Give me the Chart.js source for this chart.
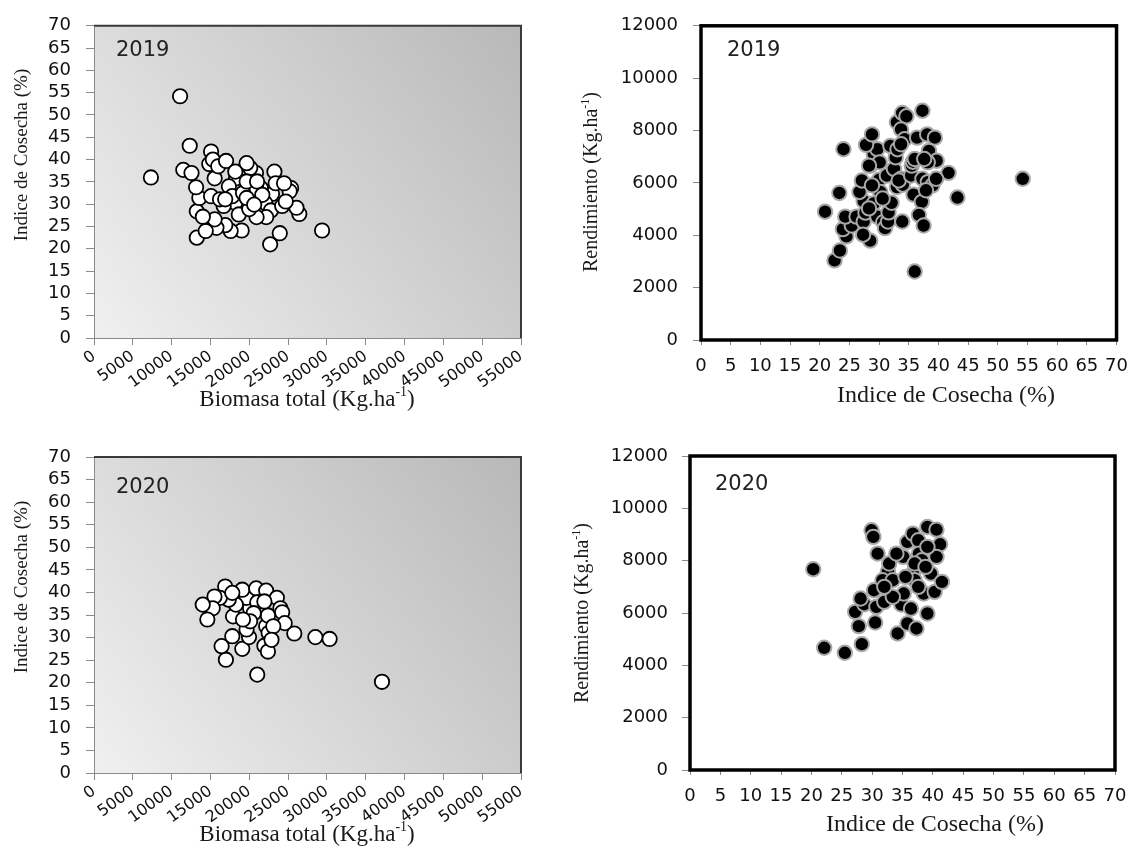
<!DOCTYPE html>
<html><head><meta charset="utf-8">
<script src="https://cdn.jsdelivr.net/npm/chart.js@4.4.1/dist/chart.umd.min.js"></script>
<style>
html,body{margin:0;padding:0;background:#fff;}
body{width:1139px;height:850px;overflow:hidden;position:relative;}
canvas{position:absolute;}
</style></head><body>
<canvas id="c1" width="570" height="420" style="left:0px;top:0px"></canvas>
<canvas id="c2" width="569" height="420" style="left:570px;top:0px"></canvas>
<canvas id="c3" width="570" height="430" style="left:0px;top:420px"></canvas>
<canvas id="c4" width="569" height="430" style="left:570px;top:420px"></canvas>
<script>
// ---------- data ----------
const biomasaTicks = [0,5000,10000,15000,20000,25000,30000,35000,40000,45000,50000,55000];
const icTicksY = [0,5,10,15,20,25,30,35,40,45,50,55,60,65,70];
const icTicksX = [0,5,10,15,20,25,30,35,40,45,50,55,60,65,70];
const rendTicks = [0,2000,4000,6000,8000,10000,12000];

// 2019: Biomasa total vs Indice de Cosecha
const biomasa2019 = [11090,7330,12330,11500,29380,22690,23930,13240,26440,26080,25390,25200,23240,22920,22040,22780,22180,20940,24240,21490,20940,20860,20120,19660,20260,18290,17370,18200,18650,19020,17600,16910,15770,15540,14390,13240,14020,13570,13150,12560,15080,15540,14850,15080,15310,16000,17010,18200,17800,19200,19660,21000,21680,23400,24480,24700,16700,16230,16900,20000,19660,20630];
const icBio2019 = [54.2,36.0,43.1,37.7,24.1,21.0,23.5,22.5,27.8,29.2,33.6,32.9,37.3,32.3,30.3,28.6,27.1,27.1,29.6,33.6,33.3,37.0,38.1,39.2,30.1,35.8,34.0,30.3,27.7,24.1,24.0,25.3,24.7,26.6,24.0,28.4,27.2,31.4,33.8,37.0,31.8,35.8,39.0,41.8,40.0,38.5,39.7,37.3,31.8,32.5,35.1,35.1,32.1,34.7,34.7,30.6,29.6,31.1,31.1,28.9,31.4,29.9];

// 2019: Indice de Cosecha vs Rendimiento
const icRend2019 = [54.2,43.2,41.7,36.0,22.5,23.4,20.9,23.3,24.0,24.5,23.9,25.4,24.3,26.2,27.4,28.5,27.3,27.7,27.4,26.7,27.1,28.5,29.1,29.7,27.8,28.8,30.1,30.0,30.2,29.1,29.7,30.7,31.0,31.5,31.6,32.1,31.9,31.3,32.5,32.8,33.1,33.0,33.9,34.6,33.7,34.3,33.7,33.7,33.0,34.0,33.3,33.9,35.4,35.5,35.7,36.0,36.4,35.8,37.2,36.7,37.5,37.3,38.1,39.4,38.4,39.7,38.2,37.6,37.3,38.2,39.0,39.6,37.9,30.6,28.3,28.8,28.3];
const rend2019 = [6157,5441,6383,2614,3041,3418,4900,5617,7288,3958,4234,4373,4712,4712,4523,3795,4021,4863,5303,5654,6094,6660,7099,7288,7451,7853,6785,6119,5654,5215,4712,4498,4272,4523,4875,5240,7413,6282,6534,6974,7288,8318,8670,8544,8042,7665,7476,6157,5843,5931,6094,4523,6283,6660,6810,6911,7728,5554,5277,4775,4373,8758,7853,7728,7225,6848,6785,6911,6157,6031,5906,6157,5717,5403,5026,5906,6660];

// 2020: Biomasa total vs Indice de Cosecha
const biomasa2020 = [37095,30347,28510,25800,21026,16987,16436,17813,19099,19971,19650,21945,22404,22174,22496,22404,20109,19650,19099,20889,22174,23552,24011,24240,24562,23093,21027,21945,17905,18272,17354,16895,16206,15518,15288,14599,14003,17813,20568,20109,22863,19190];
const icBio2020 = [20.2,29.7,30.1,30.9,21.8,25.1,28.1,30.3,27.5,30.1,31.8,28.2,26.9,32.5,31.0,34.9,36.5,38.8,40.6,40.9,40.4,38.8,36.5,35.6,33.2,32.5,37.8,38.0,34.7,37.3,38.4,41.3,38.8,39.1,36.5,34.0,37.3,39.9,35.4,33.6,29.5,34.0];

// 2020: Indice de Cosecha vs Rendimiento
const icRend2020 = [20.3,22.1,25.5,28.3,27.8,30.5,27.2,28.7,28.1,29.9,30.2,30.9,30.3,30.7,32.0,32.6,31.7,33.4,32.8,34.2,34.8,35.8,37.3,39.1,36.4,36.7,35.8,36.7,35.1,34.0,37.6,39.1,40.6,41.2,40.6,39.7,38.5,40.3,41.5,37.7,38.2,37.0,37.6,35.2,33.4,32.0,37.0,38.8,35.5,39.1];
const rend2020 = [7673,4670,4479,4810,5497,5637,6044,6337,6553,9162,8908,8271,6872,6235,6426,7572,7253,7253,7890,5217,6324,5599,5408,5981,6171,7508,8717,9035,8144,8271,8780,9289,9187,8627,8144,7508,6744,6808,7190,8271,8016,7253,6999,6744,6617,6999,7890,7762,7381,8526];

// ---------- helpers ----------
const TICK_FONT = {family:'DejaVu Sans', size:18};
const SERIF = '"Liberation Serif", "Times New Roman", serif';

function pairs(xs, ys){ return xs.map((x,i)=>({x:x, y:ys[i]})); }

function richText(ctx, segs, x, y, size, rot){
  ctx.save();
  ctx.translate(x, y);
  ctx.rotate(rot || 0);
  const fN = size + 'px ' + SERIF;
  const fS = Math.round(size*0.6) + 'px ' + SERIF;
  let w = 0;
  segs.forEach(s => { ctx.font = s.sup ? fS : fN; s.w = ctx.measureText(s.t).width; w += s.w; });
  let cx = -w/2;
  ctx.textBaseline = 'middle';
  ctx.textAlign = 'left';
  ctx.fillStyle = '#1a1a1a';
  segs.forEach(s => { ctx.font = s.sup ? fS : fN; ctx.fillText(s.t, cx, s.sup ? -size*0.32 : 0); cx += s.w; });
  ctx.restore();
}

const T_BIO = [{t:'Biomasa total (Kg.ha'},{t:'-1',sup:true},{t:')'}];
const T_IC = [{t:'Indice de Cosecha (%)'}];
const T_IC2 = [{t:'Indice de Cosecha'},{t:' '},{t:'(%)'}];
const T_REND = [{t:'Rendimiento (Kg.ha'},{t:'-1',sup:true},{t:')'}];

function makeChart(id, cfg){
  const plugin = {
    id: 'deco_' + id,
    beforeDraw(chart){
      const a = chart.chartArea, ctx = chart.ctx;
      ctx.save();
      if (cfg.gradient){
        const g = ctx.createLinearGradient(a.left, a.bottom, a.right, a.top);
        g.addColorStop(0, '#f0f0f0');
        g.addColorStop(1, '#b8b8b8');
        ctx.fillStyle = g;
        ctx.fillRect(a.left, a.top, a.right - a.left, a.bottom - a.top);
      }
      ctx.restore();
    },
    afterDraw(chart){
      const a = chart.chartArea, ctx = chart.ctx;
      ctx.save();
      if (cfg.gradient){
        ctx.strokeStyle = '#3a3a3a';
        ctx.lineWidth = 2;
        ctx.beginPath();
        ctx.moveTo(a.left, a.top); ctx.lineTo(a.right, a.top); ctx.lineTo(a.right, a.bottom);
        ctx.stroke();
      } else {
        ctx.strokeStyle = '#000';
        ctx.lineWidth = 3.5;
        ctx.strokeRect(a.left, a.top, a.right - a.left, a.bottom - a.top);
      }
      // year label
      ctx.font = '21px "DejaVu Sans"';
      ctx.fillStyle = '#222';
      ctx.textBaseline = 'middle';
      ctx.textAlign = 'left';
      ctx.fillText(cfg.year, cfg.yearPos[0], cfg.yearPos[1]);
      ctx.restore();
      richText(ctx, cfg.xTitle, cfg.xTitlePos[0], cfg.xTitlePos[1], cfg.xTitleSize, 0);
      richText(ctx, cfg.yTitle, cfg.yTitlePos[0], cfg.yTitlePos[1], cfg.yTitleSize, -Math.PI/2);
    }
  };
  return new Chart(document.getElementById(id), {
    type: 'scatter',
    data: { datasets: [{
      data: cfg.data,
      backgroundColor: cfg.fill,
      borderColor: cfg.stroke,
      borderWidth: cfg.strokeW,
      pointRadius: 7.2,
      pointHoverRadius: 7.2
    }]},
    options: {
      responsive: false,
      animation: false,
      devicePixelRatio: 1,
      events: [],
      layout: { padding: { left: 0, top: cfg.padTop, right: cfg.padRight, bottom: 0 } },
      plugins: { legend: { display: false }, tooltip: { enabled: false } },
      scales: {
        x: {
          type: 'linear', min: cfg.xTicks[0], max: cfg.xTicks[cfg.xTicks.length-1],
          afterBuildTicks: s => { s.ticks = cfg.xTicks.map(v => ({value: v})); },
          afterFit: s => { s.height = cfg.xAxisH; },
          grid: { display: true, drawOnChartArea: false, drawTicks: true, tickLength: cfg.xTickLen, color: '#8a8a8a' },
          border: { display: true, color: '#8a8a8a', width: 1 },
          ticks: {
            autoSkip: false, font: cfg.xTickFont, color: '#111', padding: cfg.xTickPad,
            minRotation: cfg.xRot, maxRotation: cfg.xRot,
            callback: v => String(v)
          }
        },
        y: {
          type: 'linear', min: cfg.yTicks[0], max: cfg.yTicks[cfg.yTicks.length-1],
          afterBuildTicks: s => { s.ticks = cfg.yTicks.map(v => ({value: v})); },
          afterFit: s => { s.width = cfg.yAxisW; },
          grid: { display: true, drawOnChartArea: false, drawTicks: true, tickLength: 8, color: '#8a8a8a' },
          border: { display: true, color: '#8a8a8a', width: 1 },
          ticks: { autoSkip: false, font: TICK_FONT, color: '#111', padding: cfg.yTickPad, callback: v => String(v) }
        }
      }
    },
    plugins: [plugin]
  });
}

const whiteMarks = { fill: '#ffffff', stroke: '#000000', strokeW: 1.8 };
const blackMarks = { fill: '#000000', stroke: '#a8a8a8', strokeW: 2 };
const ROT_FONT = {family:'DejaVu Sans', size:16};

makeChart('c1', Object.assign({
  data: pairs(biomasa2019, icBio2019), gradient: true, year: '2019', yearPos: [116, 51],
  xTicks: biomasaTicks, yTicks: icTicksY,
  padTop: 23, padRight: 49, xAxisH: 82, yAxisW: 94,
  xTickLen: 7, xTickPad: 2, xRot: 36, xTickFont: ROT_FONT, yTickPad: 15,
  xTitle: T_BIO, xTitlePos: [307, 400], xTitleSize: 23,
  yTitle: T_IC, yTitlePos: [22, 155], yTitleSize: 19
}, whiteMarks));

makeChart('c2', Object.assign({
  data: pairs(icRend2019, rend2019), gradient: false, year: '2019', yearPos: [157, 51],
  xTicks: icTicksX, yTicks: rendTicks,
  padTop: 22, padRight: 14, xAxisH: 80, yAxisW: 131,
  xTickLen: 5, xTickPad: 11, xRot: 0, xTickFont: TICK_FONT, yTickPad: 15,
  xTitle: T_IC2, xTitlePos: [376, 396], xTitleSize: 24,
  yTitle: T_REND, yTitlePos: [22, 182], yTitleSize: 20
}, blackMarks));

makeChart('c3', Object.assign({
  data: pairs(biomasa2020, icBio2020), gradient: true, year: '2020', yearPos: [116, 68],
  xTicks: biomasaTicks, yTicks: icTicksY,
  padTop: 37, padRight: 49, xAxisH: 77, yAxisW: 94,
  xTickLen: 7, xTickPad: 2, xRot: 36, xTickFont: ROT_FONT, yTickPad: 15,
  xTitle: T_BIO, xTitlePos: [307, 415], xTitleSize: 23,
  yTitle: T_IC, yTitlePos: [22, 167], yTitleSize: 19
}, whiteMarks));

makeChart('c4', Object.assign({
  data: pairs(icRend2020, rend2020), gradient: false, year: '2020', yearPos: [145, 65],
  xTicks: icTicksX, yTicks: rendTicks,
  padTop: 36, padRight: 24, xAxisH: 80, yAxisW: 120,
  xTickLen: 5, xTickPad: 11, xRot: 0, xTickFont: TICK_FONT, yTickPad: 14,
  xTitle: T_IC2, xTitlePos: [365, 405], xTitleSize: 24,
  yTitle: T_REND, yTitlePos: [13, 193], yTitleSize: 20
}, blackMarks));
</script>
</body></html>
